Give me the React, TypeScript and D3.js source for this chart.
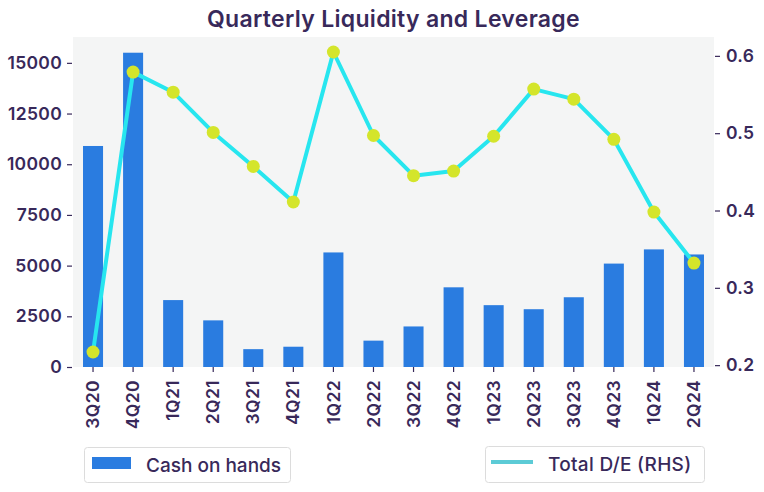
import { useRef, useEffect } from 'react';
import * as d3 from 'd3';

const quarters = ['3Q20', '4Q20', '1Q21', '2Q21', '3Q21', '4Q21', '1Q22', '2Q22', '3Q22', '4Q22', '1Q23', '2Q23', '3Q23', '4Q23', '1Q24', '2Q24'];
const cashOnHands = [10900, 15500, 3300, 2300, 880, 1000, 5650, 1300, 2000, 3930, 3050, 2850, 3440, 5100, 5800, 5550];
const totalDE = [0.217, 0.579, 0.553, 0.501, 0.457, 0.411, 0.605, 0.497, 0.445, 0.451, 0.496, 0.557, 0.544, 0.492, 0.398, 0.332];
const leftTicks = [0, 2500, 5000, 7500, 10000, 12500, 15000];
const rightTicks = [0.2, 0.3, 0.4, 0.5, 0.6];

const width = 764;
const height = 492;
const marginLeft = 73;
const marginRight = 50;
const marginTop = 37;
const plotBottom = 367;

const textColor = '#38295a';
const font = "Inter, 'Noto Sans', sans-serif";

export default function App() {
  const gx = useRef<SVGGElement>(null);
  const gy = useRef<SVGGElement>(null);
  const gy2 = useRef<SVGGElement>(null);

  const x = d3
    .scaleBand<string>()
    .domain(quarters)
    .range([marginLeft, width - marginRight])
    .paddingInner(0.5)
    .paddingOuter(0.25);
  const cashMax = d3.max(cashOnHands) as number;
  const y = d3.scaleLinear([0, cashMax * 1.05], [plotBottom, marginTop]);
  const [deMin, deMax] = d3.extent(totalDE) as [number, number];
  const pad = (deMax - deMin) * 0.05;
  const y2 = d3.scaleLinear([deMin - pad, deMax + pad], [plotBottom, marginTop]);

  const line = d3
    .line<number>()
    .x((_, i) => (x(quarters[i]) as number) + x.bandwidth() / 2)
    .y((d) => y2(d));

  useEffect(() => {
    const style = (g: d3.Selection<SVGGElement, unknown, null, undefined>) => {
      g.select('.domain').remove();
      g.selectAll('.tick line').attr('stroke', textColor).attr('stroke-width', 1.2);
      g.selectAll('.tick text')
        .attr('fill', textColor)
        .attr('font-family', font)
        .attr('font-weight', 600)
        .attr('font-size', 17.5)
        .attr('letter-spacing', 0.3);
    };
    if (gx.current) {
      const g = d3.select(gx.current);
      g.call(d3.axisBottom(x).tickSize(5).tickPadding(6));
      style(g);
      g.selectAll('.tick text')
        .attr('transform', 'rotate(-90)')
        .attr('text-anchor', 'end')
        .attr('x', -13)
        .attr('y', 0)
        .attr('dy', '0.35em')
        .attr('font-size', 17.5)
        .attr('letter-spacing', 0.4);
    }
    if (gy.current) {
      const g = d3.select(gy.current);
      g.call(d3.axisLeft(y).tickValues(leftTicks).tickSize(5).tickPadding(5).tickFormat(d3.format('d')));
      style(g);
    }
    if (gy2.current) {
      const g = d3.select(gy2.current);
      g.call(d3.axisRight(y2).tickValues(rightTicks).tickSize(5).tickPadding(6).tickFormat(d3.format('.1f')));
      style(g);
    }
  }, [x, y, y2]);

  return (
    <svg
      width={width}
      height={height}
      style={{ position: 'absolute', left: 0, top: 0, background: '#ffffff' }}>
      <rect
        x={marginLeft}
        y={marginTop}
        width={width - marginRight - marginLeft}
        height={plotBottom - marginTop}
        fill='#f4f5f5'
      />
      <text
        x={(marginLeft + width - marginRight) / 2}
        y={27}
        textAnchor='middle'
        fill={textColor}
        fontFamily={font}
        fontWeight={600}
        fontSize={23}
        letterSpacing={0.3}>
        Quarterly Liquidity and Leverage
      </text>
      {cashOnHands.map((v, i) => (
        <rect
          key={quarters[i]}
          x={x(quarters[i])}
          y={y(v)}
          width={x.bandwidth()}
          height={y(0) - y(v)}
          fill='#2a7ce0'
        />
      ))}
      <path d={line(totalDE) ?? ''} fill='none' stroke='#27e6ef' strokeWidth={4} strokeLinejoin='round' />
      {totalDE.map((v, i) => (
        <circle
          key={quarters[i]}
          cx={(x(quarters[i]) as number) + x.bandwidth() / 2}
          cy={y2(v)}
          r={6.5}
          fill='#d4e52b'
        />
      ))}
      <g ref={gx} transform={`translate(0, ${plotBottom})`} />
      <g ref={gy} transform={`translate(${marginLeft - 1}, 0)`} />
      <g ref={gy2} transform={`translate(${width - marginRight + 1}, 0)`} />

      <g fontFamily={font} fontSize={19} fontWeight={500} fill={textColor}>
        <rect x={84.5} y={447.5} width={206} height={35} rx={3} fill='#ffffff' stroke='#dcdcdc' />
        <rect x={92} y={457} width={39} height={12} fill='#2a7ce0' />
        <text x={146} y={465} dy='0.35em'>Cash on hands</text>
        <rect x={485.5} y={446.5} width={219} height={36} rx={3} fill='#ffffff' stroke='#dcdcdc' />
        <line x1={491} x2={533} y1={462} y2={462} stroke='#5ccbd6' strokeWidth={4} />
        <text x={548} y={464} dy='0.35em' letterSpacing={0.3}>Total D/E (RHS)</text>
      </g>
    </svg>
  );
}
